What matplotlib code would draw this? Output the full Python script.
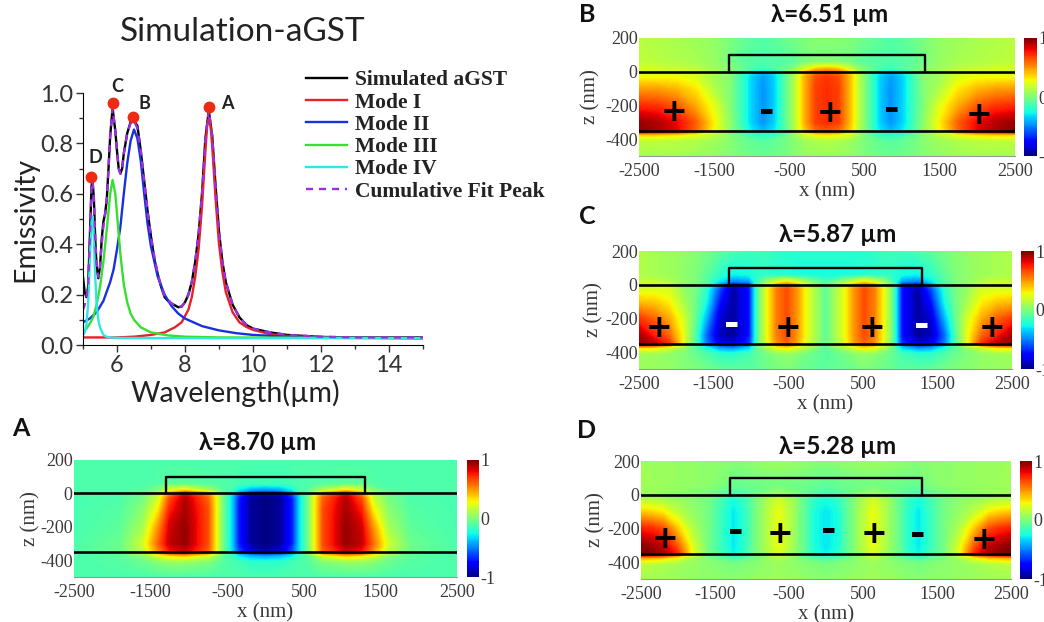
import numpy as np
import matplotlib
matplotlib.use("Agg")
import matplotlib.pyplot as plt

plt.rcParams["axes.unicode_minus"] = False

W, H = 1044, 622
SERIF = "Liberation Serif"
SANS = "Lato"
GREY = "#3a3a3a"

# emissivity spectra
SIM_X = [5, 5.05, 5.1, 5.15, 5.2, 5.25, 5.28, 5.32, 5.36, 5.4, 5.45, 5.5, 5.55, 5.6, 5.65, 5.7, 5.75, 5.8, 5.87,
         5.95, 6.0, 6.05, 6.1, 6.15, 6.2, 6.3, 6.4, 6.5, 6.6, 6.7, 6.8, 6.9, 7.0, 7.1, 7.2, 7.3, 7.4, 7.5, 7.6,
         7.8, 7.9, 8.0, 8.1, 8.2, 8.3, 8.4, 8.5, 8.6, 8.7, 8.8, 8.9, 9.0, 9.1, 9.2, 9.4, 9.6, 9.8, 10, 10.5, 11,
         12, 13, 15]
SIM_Y = [.27, .21, .19, .23, .42, .63, .655, .58, .42, .31, .265, .31, .42, .49, .52, .58, .70, .83, .94,
         .85, .77, .70, .68, .70, .76, .84, .885, .89, .87, .77, .65, .53, .43, .34, .28, .23, .19, .175, .165,
         .15, .152, .17, .20, .25, .33, .44, .60, .82, .93, .83, .63, .45, .33, .25, .16, .11, .08, .065, .05, .04,
         .032, .03, .03]
FIT_Y = [.14, .16, .19, .24, .42, .62, .65, .58, .42, .32, .27, .31, .40, .47, .52, .58, .70, .83, .94,
         .85, .77, .70, .68, .70, .76, .84, .88, .89, .86, .77, .65, .53, .43, .35, .28, .23, .195, .18, .165,
         .15, .153, .17, .20, .25, .33, .44, .60, .82, .93, .83, .63, .45, .33, .25, .16, .11, .08, .065, .05, .04,
         .033, .03, .03]
M1_X = [5, 6, 6.5, 7, 7.4, 7.7, 7.9, 8.1, 8.2, 8.3, 8.4, 8.5, 8.6, 8.65, 8.7, 8.75, 8.8, 8.9, 9.0, 9.1, 9.2, 9.4,
        9.6, 9.8, 10, 10.5, 11, 12, 13, 15]
M1_Y = [.03, .03, .033, .04, .05, .07, .09, .14, .19, .27, .38, .55, .77, .87, .90, .87, .79, .58, .40, .29, .21, .13,
        .09, .072, .06, .043, .036, .03, .028, .027]
M2_X = [5, 5.2, 5.4, 5.6, 5.8, 5.9, 6.0, 6.1, 6.2, 6.3, 6.4, 6.5, 6.6, 6.7, 6.8, 6.9, 7.0, 7.2, 7.4, 7.6, 7.8, 8,
        8.5, 9, 9.5, 10, 11, 12, 15]
M2_Y = [.09, .105, .13, .175, .25, .30, .38, .47, .60, .72, .81, .855, .82, .73, .60, .48, .39, .27, .20, .155, .125,
        .105, .075, .058, .047, .04, .033, .03, .027]
M3_X = [5, 5.1, 5.2, 5.3, 5.4, 5.5, 5.6, 5.7, 5.8, 5.87, 5.95, 6.0, 6.1, 6.2, 6.3, 6.4, 6.5, 6.7, 7, 7.5, 8, 9, 15]
M3_Y = [.05, .065, .085, .11, .16, .23, .33, .46, .60, .655, .60, .52, .36, .24, .17, .125, .10, .07, .05, .038, .033,
        .03, .028]
M4_X = [5, 5.05, 5.1, 5.15, 5.2, 5.25, 5.28, 5.31, 5.35, 5.4, 5.45, 5.5, 5.6, 5.7, 6, 8, 15]
M4_Y = [.04, .05, .08, .16, .33, .49, .51, .46, .30, .16, .10, .07, .04, .032, .028, .027, .027]

PEAK_X = [8.72, 6.47, 5.87, 5.23]
PEAK_Y = [.945, .905, .96, .665]
PEAK_NAMES = ["A", "B", "C", "D"]
PEAK_LABEL_X = [9.24, 6.82, 6.0, 5.37]
PEAK_LABEL_Y = [.96, .96, 1.027, .746]

# field maps: depth rows and half-width columns, the other half is the mirror image
Z_ROWS = [200, 60, 20, 0, -30, -100, -200, -300, -350, -375, -410, -500]

A_X = [0, 200, 350, 450, 550, 650, 750, 1050, 1250, 1400, 1600, 1900, 2500]
A_F = [
    [-.12, -.12, -.12, -.12, -.12, -.12, -.12, -.12, -.12, -.12, -.12, -.12, -.12],
    [-.15, -.15, -.14, -.12, -.12, -.10, -.10, -.08, -.08, -.10, -.12, -.12, -.12],
    [-.50, -.45, -.30, -.15, -.10, .00, .10, .30, .20, .00, -.10, -.12, -.12],
    [-.90, -.85, -.60, -.30, -.05, .25, .50, .80, .50, .15, -.05, -.12, -.12],
    [-1.0, -.95, -.70, -.30, -.05, .30, .60, .90, .65, .20, -.02, -.12, -.13],
    [-1.0, -.95, -.70, -.30, -.05, .30, .65, .92, .75, .32, .03, -.10, -.13],
    [-1.0, -.95, -.70, -.30, -.05, .30, .65, .95, .85, .50, .10, -.08, -.13],
    [-1.0, -.95, -.70, -.30, -.05, .30, .65, .95, .88, .60, .20, -.05, -.12],
    [-.90, -.85, -.60, -.30, -.05, .30, .60, .85, .75, .50, .15, -.05, -.12],
    [-.45, -.40, -.30, -.15, -.08, .05, .20, .35, .30, .20, .03, -.08, -.12],
    [-.20, -.20, -.15, -.12, -.10, -.05, .00, .05, .05, .02, -.05, -.10, -.12],
    [-.12, -.12, -.12, -.12, -.12, -.12, -.12, -.12, -.12, -.12, -.12, -.12, -.12],
]
B_X = [0, 150, 300, 420, 560, 700, 850, 1000, 1150, 1300, 1500, 1750, 2000, 2250, 2500]
B_F = [
    [.02, .02, .00, -.02, -.05, -.08, -.10, -.08, -.05, .00, .05, .08, .10, .12, .14],
    [.00, .00, -.02, -.08, -.10, -.10, -.12, -.10, -.08, -.02, .06, .10, .12, .14, .15],
    [.40, .35, .20, .05, -.05, -.12, -.15, -.12, -.05, .02, .08, .15, .18, .20, .20],
    [.60, .55, .35, .10, -.10, -.30, -.40, -.30, -.12, .02, .10, .20, .22, .22, .22],
    [.70, .65, .42, .15, -.10, -.35, -.45, -.35, -.15, .03, .08, .22, .27, .27, .27],
    [.72, .68, .42, .15, -.10, -.35, -.47, -.35, -.15, .02, .12, .32, .42, .47, .48],
    [.72, .68, .42, .15, -.10, -.35, -.47, -.35, -.15, .02, .24, .45, .62, .70, .72],
    [.72, .68, .42, .15, -.10, -.35, -.47, -.35, -.15, .05, .30, .62, .80, .90, .95],
    [.62, .58, .38, .12, -.10, -.30, -.40, -.30, -.12, .05, .28, .60, .82, .92, .98],
    [.30, .28, .20, .08, -.08, -.18, -.22, -.18, -.08, .03, .15, .25, .32, .35, .35],
    [.12, .10, .08, .02, -.03, -.07, -.10, -.07, -.03, .03, .08, .12, .14, .15, .15],
    [.08, .08, .05, .02, -.02, -.05, -.05, -.05, -.02, .02, .05, .08, .10, .10, .10],
]
C_X = [0, 250, 400, 520, 650, 790, 880, 950, 1020, 1240, 1420, 1600, 1750, 1900, 2100, 2300, 2500]
C_F = [
    [-.20, -.20, -.20, -.20, -.18, -.15, -.15, -.15, -.15, -.12, -.08, -.02, .02, .05, .08, .10, .12],
    [-.25, -.25, -.25, -.22, -.22, -.20, -.20, -.22, -.25, -.28, -.20, -.08, .00, .04, .08, .10, .12],
    [-.15, .05, .20, .28, .20, .05, -.12, -.25, -.45, -.50, -.30, -.10, .00, .05, .12, .16, .16],
    [-.10, .20, .45, .55, .45, .20, -.05, -.30, -.70, -.85, -.50, -.15, -.02, .05, .20, .22, .22],
    [-.08, .25, .52, .65, .55, .25, .00, -.30, -.72, -.95, -.62, -.20, -.02, .06, .22, .23, .23],
    [-.08, .25, .52, .65, .55, .25, .00, -.30, -.72, -.95, -.72, -.25, -.03, .10, .30, .38, .40],
    [-.08, .25, .52, .65, .55, .25, .00, -.30, -.72, -.95, -.85, -.40, -.05, .20, .45, .60, .70],
    [-.08, .25, .52, .65, .55, .25, .00, -.30, -.72, -.98, -.90, -.55, -.10, .25, .60, .75, .92],
    [-.08, .22, .48, .60, .50, .22, .00, -.28, -.65, -.85, -.80, -.50, -.10, .25, .72, .88, .95],
    [-.10, .10, .22, .30, .25, .10, -.02, -.15, -.35, -.50, -.45, -.25, -.08, .05, .20, .30, .32],
    [-.10, -.03, .03, .05, .03, -.02, -.06, -.10, -.15, -.20, -.20, -.12, -.05, .00, .05, .08, .08],
    [-.08, -.05, -.03, .00, -.02, -.04, -.06, -.08, -.08, -.08, -.07, -.03, .00, .02, .05, .06, .06],
]
D_X = [0, 150, 320, 480, 640, 800, 960, 1100, 1250, 1400, 1600, 1800, 2000, 2200, 2350, 2500]
D_F = [
    [.02, .03, .05, .07, .08, .07, .05, .03, .02, .03, .04, .05, .06, .07, .07, .08],
    [-.08, -.06, -.04, -.03, -.03, -.03, -.04, -.05, -.05, .00, .04, .05, .06, .07, .08, .08],
    [-.12, -.10, -.05, .00, .04, .00, -.05, -.10, -.12, -.08, -.01, .02, .04, .06, .07, .07],
    [-.18, -.15, -.05, .05, .12, .05, -.05, -.14, -.18, -.10, -.02, .03, .05, .06, .07, .08],
    [-.25, -.20, -.05, .10, .20, .10, -.04, -.17, -.25, -.15, -.02, .03, .06, .10, .12, .13],
    [-.30, -.25, -.05, .12, .26, .12, -.03, -.20, -.30, -.18, -.02, .05, .15, .30, .35, .38],
    [-.30, -.25, -.05, .12, .26, .12, -.03, -.20, -.30, -.18, -.02, .12, .38, .65, .72, .75],
    [-.30, -.25, -.05, .12, .26, .12, -.03, -.20, -.30, -.18, -.02, .22, .60, .87, .92, .97],
    [-.28, -.22, -.05, .10, .22, .10, -.03, -.18, -.28, -.15, -.02, .25, .72, .92, .98, 1.0],
    [-.15, -.12, -.03, .05, .12, .05, -.03, -.10, -.15, -.08, .00, .10, .25, .38, .42, .45],
    [-.02, .00, .02, .05, .07, .05, .02, .00, -.02, .00, .03, .06, .09, .12, .14, .15],
    [.02, .03, .05, .06, .07, .06, .05, .03, .02, .03, .04, .05, .06, .07, .08, .08],
]

# charge signs drawn on the maps: (x nm, z nm, sign)
B_SIGNS = [(-2030, -240, "+"), (-807, -240, "-"), (35, -250, "+"), (856, -230, "-"), (2027, -260, "+")]
C_SIGNS = [(-2228, -259, "+"), (-1254, -240, "w"), (-504, -259, "+"), (625, -259, "+"), (1295, -243, "w"),
           (2237, -259, "+")]
D_SIGNS = [(-2171, -265, "+"), (-1216, -224, "-"), (-617, -238, "+"), (32, -214, "-"), (653, -234, "+"),
           (1234, -240, "-"), (2140, -273, "+")]

XTICKS = [-2500, -1500, -500, 500, 1500, 2500]
ZTICKS = [200, 0, -200, -400]


def px_axes(fig, left, top, right, bottom):
    return fig.add_axes([left / W, 1 - bottom / H, (right - left) / W, (bottom - top) / H])


def px_text(fig, x, y, s, **kw):
    fig.text(x / W, 1 - y / H, s, ha="center", va="center", **kw)


def field_panel(fig, box, cbar_box, half_x, half_f, signs, title, title_xy, letter, letter_xy, zpad=0):
    ax = px_axes(fig, *box)
    half_x = np.array(half_x, dtype=float)
    half_f = np.array(half_f)
    xs = np.concatenate([-half_x[::-1], half_x[1:]])
    field = np.hstack([half_f[:, ::-1], half_f[:, 1:]])
    cs = ax.contourf(xs, Z_ROWS, field, levels=np.linspace(-1, 1, 129), cmap="jet", vmin=-1, vmax=1)
    ax.axhline(0, color="black", lw=1.9)
    ax.axhline(-350, color="black", lw=1.9)
    ax.plot([-1300, -1300, 1300, 1300], [0, 100, 100, 0], color="black", lw=1.7)
    for x, z, kind in signs:
        if kind == "+":
            ax.text(x, z, "+", color="black", fontsize=23, fontweight="bold", ha="center", va="center",
                    family="DejaVu Sans")
        else:
            ax.text(x, z, "-", color="white" if kind == "w" else "black", fontsize=27, fontweight="bold",
                    ha="center", va="center", family="DejaVu Sans")
    ax.set_xlim(-2500, 2500)
    ax.set_ylim(-500, 200)
    ax.set_xticks(XTICKS)
    ax.set_yticks(ZTICKS)
    ax.tick_params(length=0, labelsize=13, labelcolor=GREY, pad=5)
    ax.tick_params(axis="y", pad=1)
    for lab in ax.get_xticklabels() + ax.get_yticklabels():
        lab.set_family(SERIF)
    for side in ("left", "top", "right"):
        ax.spines[side].set_visible(False)
    ax.spines["bottom"].set_color("#999999")
    ax.set_xlabel("x (nm)", fontsize=15, family=SERIF, color=GREY, labelpad=2)
    ax.set_ylabel("z (nm)", fontsize=15, family=SERIF, color=GREY, labelpad=zpad)
    cax = px_axes(fig, *cbar_box)
    cb = fig.colorbar(cs, cax=cax, ticks=[-1, 0, 1])
    cb.outline.set_visible(False)
    cb.ax.tick_params(length=0, labelsize=13, labelcolor=GREY, pad=1)
    cb.ax.set_yticklabels(["-1", "0", "1"])
    for lab in cb.ax.get_yticklabels():
        lab.set_family(SERIF)
    px_text(fig, *title_xy, title, fontsize=17.5, fontweight="bold", family=SANS, color="#111111")
    px_text(fig, *letter_xy, letter, fontsize=18, fontweight="bold", family=SANS, color="#111111")


def spectrum(fig):
    ax = px_axes(fig, 83, 93, 423, 345)
    ax.plot(SIM_X, SIM_Y, color="black", lw=1.7, label="Simulated aGST")
    ax.plot(M1_X, M1_Y, color="#e8202a", lw=1.7, label="Mode I")
    ax.plot(M2_X, M2_Y, color="#1a2fe0", lw=1.7, label="Mode II")
    ax.plot(M3_X, M3_Y, color="#35e030", lw=1.7, label="Mode III")
    ax.plot(M4_X, M4_Y, color="#2ee6e6", lw=1.7, label="Mode IV")
    ax.plot(SIM_X, FIT_Y, color="#9a30e0", lw=1.7, ls=(0, (3, 2.5)), label="Cumulative Fit Peak")
    ax.plot(PEAK_X, PEAK_Y, "o", color="#ee2a14", ms=7.5, clip_on=False, zorder=5)
    for x, y, name in zip(PEAK_LABEL_X, PEAK_LABEL_Y, PEAK_NAMES):
        ax.text(x, y, name, fontsize=13, fontweight="bold", family=SANS, color="#222222",
                ha="center", va="center", clip_on=False)
    ax.set_xlim(5, 15)
    ax.set_ylim(0, 1)
    ax.set_xticks([6, 8, 10, 12, 14])
    ax.set_xticks([5, 7, 9, 11, 13, 15], minor=True)
    ax.set_yticks([0, .2, .4, .6, .8, 1.0])
    ax.set_yticks([.1, .3, .5, .7, .9], minor=True)
    ax.tick_params(which="major", length=5, width=1, labelsize=17, colors="#333333", pad=2)
    ax.tick_params(which="minor", length=3, width=1, colors="#333333")
    for lab in ax.get_xticklabels() + ax.get_yticklabels():
        lab.set_family(SANS)
    ax.spines["top"].set_visible(False)
    ax.spines["right"].set_visible(False)
    ax.set_xlabel("Wavelength(\u00b5m)", fontsize=20.5, family=SANS, color="#222222")
    ax.xaxis.set_label_coords((235 - 83) / 340, -0.135)
    ax.set_ylabel("Emissivity", fontsize=20.5, family=SANS, color="#222222", labelpad=1)
    leg = ax.legend(loc="upper left", bbox_to_anchor=((306 - 83) / 340, 1.09), frameon=False,
                    prop={"family": SERIF, "weight": "bold", "size": 15.5}, labelspacing=0.1,
                    handlelength=1.9, handletextpad=0.37, borderaxespad=0, borderpad=0)
    for txt in leg.get_texts():
        txt.set_color("#222222")
    px_text(fig, 243, 32, "Simulation-aGST", fontsize=24, family=SANS, color="#222222")


fig = plt.figure(figsize=(W / 100, H / 100), dpi=100)
spectrum(fig)
field_panel(fig, (74, 460, 457, 577), (467, 460, 479, 577), A_X, A_F, [], "\u03bb=8.70 \u00b5m", (258, 442),
            "A", (21, 428))
field_panel(fig, (639, 38, 1015, 156), (1024, 38, 1037, 156), B_X, B_F, B_SIGNS, "\u03bb=6.51 \u00b5m", (830, 14),
            "B", (587, 14), zpad=3)
field_panel(fig, (639, 251, 1012, 369), (1021, 251, 1034, 369), C_X, C_F, C_SIGNS, "\u03bb=5.87 \u00b5m", (838, 235),
            "C", (587, 217), zpad=1)
field_panel(fig, (641, 461, 1011, 579), (1020, 461, 1032, 579), D_X, D_F, D_SIGNS, "\u03bb=5.28 \u00b5m", (838, 447),
            "D", (587, 430), zpad=1)
fig.savefig("out.png", dpi=100)
